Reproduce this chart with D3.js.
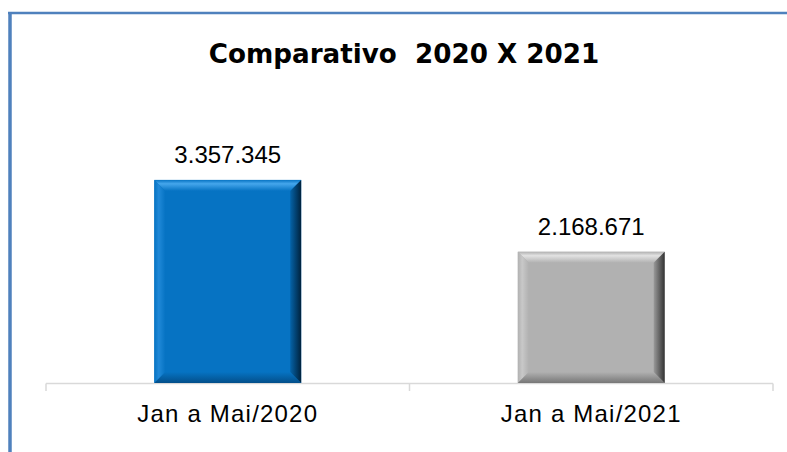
<!DOCTYPE html>
<html>
<head>
<meta charset="utf-8">
<script src="https://cdn.jsdelivr.net/npm/d3@7"></script>
<style>
  html, body { margin: 0; padding: 0; background: #fff; }
  svg { display: block; }
</style>
</head>
<body>
<svg id="chart" width="787" height="452"></svg>
<script>
// ---- data ----
const categories = ["Jan a Mai/2020", "Jan a Mai/2021"];
const values = [3357345, 2168671];
const valueLabels = ["3.357.345", "2.168.671"];
const title = "Comparativo  2020 X 2021";

const palettes = [
  { face: "#0673c3", top: "#45a6ec", left: "#2089d8", right: "#00223d", rightIn: "#0563a8", bottom: "#034f8a" },
  { face: "#b1b1b1", top: "#e2e2e2", left: "#c8c8c8", right: "#333333", rightIn: "#9a9a9a", bottom: "#777777" }
];

const svg = d3.select("#chart");
const W = 787, H = 452;

// frame border
svg.append("line").attr("x1", 8).attr("x2", W).attr("y1", 13).attr("y2", 13)
  .attr("stroke", "#4f81bd").attr("stroke-width", 2.5);
svg.append("line").attr("x1", 10).attr("x2", 10).attr("y1", 12).attr("y2", H)
  .attr("stroke", "#4f81bd").attr("stroke-width", 3.5);

// title
svg.append("text").attr("x", 404).attr("y", 63)
  .attr("text-anchor", "middle")
  .attr("font-family", "'DejaVu Sans', sans-serif")
  .attr("font-weight", "bold")
  .attr("font-size", 26.2)
  .attr("fill", "#000")
  .style("white-space", "pre")
  .attr("xml:space", "preserve")
  .text(title);

// scales
const x = d3.scaleBand().domain(categories).range([46, 773])
  .paddingInner(0.596).paddingOuter(0.298);
const y = d3.scaleLinear().domain([0, 4000000]).range([383, 141]);

// defs: gradients
const defs = svg.append("defs");
palettes.forEach((p, i) => {
  const gr = defs.append("linearGradient").attr("id", "gr" + i)
    .attr("x1", "0").attr("x2", "1").attr("y1", "0").attr("y2", "0");
  gr.append("stop").attr("offset", "0").attr("stop-color", p.rightIn);
  gr.append("stop").attr("offset", "1").attr("stop-color", p.right);
  const gt = defs.append("linearGradient").attr("id", "gt" + i)
    .attr("x1", "0").attr("x2", "0").attr("y1", "0").attr("y2", "1");
  gt.append("stop").attr("offset", "0").attr("stop-color", p.face);
  gt.append("stop").attr("offset", "0.35").attr("stop-color", p.top);
  gt.append("stop").attr("offset", "1").attr("stop-color", p.face);
  const gb = defs.append("linearGradient").attr("id", "gb" + i)
    .attr("x1", "0").attr("x2", "0").attr("y1", "0").attr("y2", "1");
  gb.append("stop").attr("offset", "0").attr("stop-color", p.face);
  gb.append("stop").attr("offset", "1").attr("stop-color", p.bottom);
  const gl = defs.append("linearGradient").attr("id", "gl" + i)
    .attr("x1", "0").attr("x2", "1").attr("y1", "0").attr("y2", "0");
  gl.append("stop").attr("offset", "0").attr("stop-color", p.face);
  gl.append("stop").attr("offset", "0.4").attr("stop-color", p.left);
  gl.append("stop").attr("offset", "1").attr("stop-color", p.face);
});

// axis
const axisG = svg.append("g");
axisG.append("line").attr("x1", 46).attr("x2", 773).attr("y1", 383.5).attr("y2", 383.5)
  .attr("stroke", "#d9d9d9").attr("stroke-width", 1.5);
const tickXs = [x.range()[0], (x.range()[0] + x.range()[1]) / 2, x.range()[1]];
axisG.selectAll("line.tick").data(tickXs).enter().append("line")
  .attr("class", "tick")
  .attr("x1", d => d).attr("x2", d => d).attr("y1", 383.5).attr("y2", 391)
  .attr("stroke", "#d9d9d9").attr("stroke-width", 1.5);

// bars with bevel
const b = 11;
const bars = svg.append("g").selectAll("g.bar")
  .data(categories.map((c, i) => ({ c, v: values[i], label: valueLabels[i], i })))
  .enter().append("g").attr("class", "bar");

bars.each(function (d) {
  const g = d3.select(this);
  const x0 = x(d.c), x1 = x0 + x.bandwidth();
  const y0 = y(d.v), y1 = y(0);
  const p = palettes[d.i];
  g.append("rect").attr("x", x0).attr("y", y0).attr("width", x1 - x0).attr("height", y1 - y0)
    .attr("fill", p.face);
  const poly = pts => pts.map(q => q.join(",")).join(" ");
  // top
  g.append("polygon").attr("points", poly([[x0, y0], [x1, y0], [x1 - b, y0 + b], [x0 + b, y0 + b]]))
    .attr("fill", `url(#gt${d.i})`);
  // left
  g.append("polygon").attr("points", poly([[x0, y0], [x0 + b, y0 + b], [x0 + b, y1 - b], [x0, y1]]))
    .attr("fill", `url(#gl${d.i})`);
  // bottom
  g.append("polygon").attr("points", poly([[x0, y1], [x0 + b, y1 - b], [x1 - b, y1 - b], [x1, y1]]))
    .attr("fill", `url(#gb${d.i})`);
  // right
  g.append("polygon").attr("points", poly([[x1, y0], [x1, y1], [x1 - b, y1 - b], [x1 - b, y0 + b]]))
    .attr("fill", `url(#gr${d.i})`);
  // value label
  g.append("text").attr("x", (x0 + x1) / 2).attr("y", y0 - 17)
    .attr("text-anchor", "middle")
    .attr("font-family", "'Liberation Sans', Arial, sans-serif")
    .attr("font-size", 24)
    .attr("fill", "#000")
    .text(d.label);
});

// category labels
svg.append("g").selectAll("text.cat").data(categories).enter().append("text")
  .attr("class", "cat")
  .attr("x", d => x(d) + x.bandwidth() / 2)
  .attr("y", 422)
  .attr("text-anchor", "middle")
  .attr("font-family", "'Liberation Sans', Arial, sans-serif")
  .attr("font-size", 24)
  .attr("letter-spacing", 1.2)
  .attr("fill", "#000")
  .text(d => d);
</script>
</body>
</html>
